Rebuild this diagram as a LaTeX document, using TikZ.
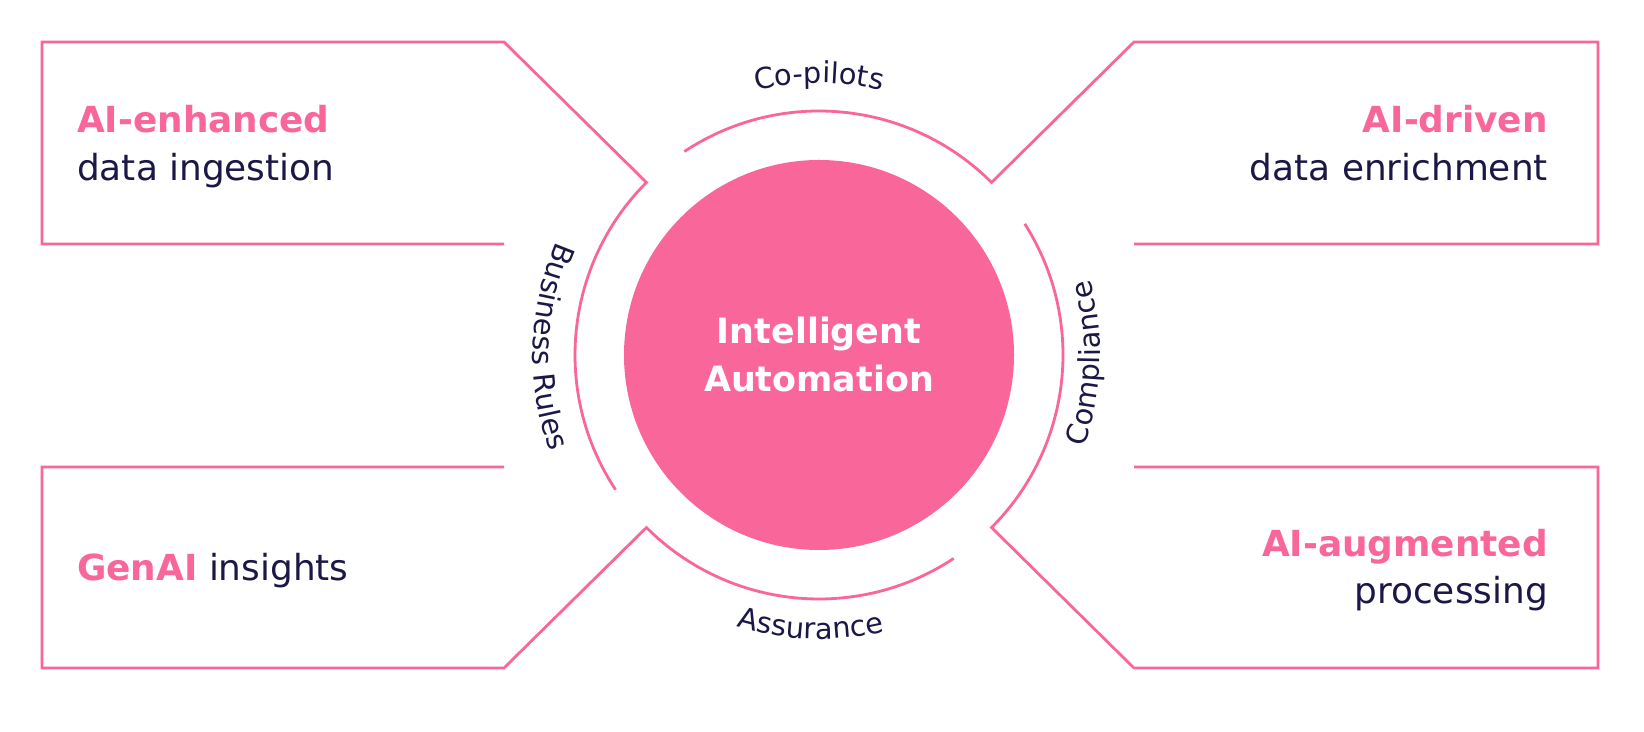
\documentclass[tikz,border=0pt]{standalone}
\usepackage{fontspec}
\setmainfont{DejaVu Sans}
\usetikzlibrary{calc,decorations.text}
\definecolor{brandpink}{HTML}{F9669A}
\definecolor{navy}{HTML}{1B1747}
\newcommand\boxfont{\fontsize{36}{43}\selectfont}
\newcommand\hubfont{\fontsize{35}{42}\selectfont}
\newcommand\lblfont{\fontsize{29}{35}\selectfont}
\begin{document}
\begin{tikzpicture}[x=1bp,y=1bp,
  frame/.style={draw=brandpink, line width=2.8bp, line join=miter},
  hitext/.style={inner sep=0, text=brandpink, font=\boxfont\bfseries},
  lotext/.style={inner sep=0, text=navy, font=\boxfont},
  hubtext/.style={inner sep=0, text=white, font=\hubfont\bfseries, anchor=base},
  arclabel/.style={decorate, decoration={text along path, text align=center,
      text color=navy, text={|\lblfont|#1}}}]
\useasboundingbox (0,0) rectangle (1644,732);
\fill[white] (0,0) rectangle (1644,732);
\coordinate (C) at (819,377);
\coordinate (tTL) at ($(C)+(135:244)$);
\coordinate (tTR) at ($(C)+(45:244)$);
\coordinate (tBL) at ($(C)+(225:244)$);
\coordinate (tBR) at ($(C)+(315:244)$);
% frames
\draw[frame] (504,488) -- (42,488) -- (42,690) -- (504,690) -- (tTL)
  arc[start angle=135, end angle=213.5, radius=244];
\draw[frame] (1134,488) -- (1598,488) -- (1598,690) -- (1134,690) -- (tTR)
  arc[start angle=45, end angle=123.5, radius=244];
\draw[frame] (504,265) -- (42,265) -- (42,64) -- (504,64) -- (tBL)
  arc[start angle=225, end angle=303.5, radius=244];
\draw[frame] (1134,265) -- (1598,265) -- (1598,64) -- (1134,64) -- (tBR)
  arc[start angle=315, end angle=392.5, radius=244];
% hub
\node[circle, fill=brandpink, minimum size=390bp, inner sep=0] (hub) at (C) {};
\node[hubtext] (hubA) at (819,388) {Intelligent};
\node[hubtext] (hubB) at (819,340) {Automation};
% box texts
\node[hitext, anchor=base west] (tlA) at (77,599) {AI-enhanced};
\node[lotext, anchor=base west] (tlB) at (77,551) {data ingestion};
\node[hitext, anchor=base east] (trA) at (1548,599) {AI-driven};
\node[lotext, anchor=base east] (trB) at (1548,551) {data enrichment};
\node[lotext, anchor=base west] (bl) at (77,151) {\textcolor{brandpink}{\bfseries GenAI} insights};
\node[hitext, anchor=base east] (brA) at (1548,175) {AI-augmented};
\node[lotext, anchor=base east] (brB) at (1548,128) {processing};
% arc labels
\path[arclabel={Co-pilots}] ($(C)+(130:272)$) arc[start angle=130, end angle=50, radius=272];
\path[arclabel={Business Rules}] ($(C)+(143.2:286)$) arc[start angle=143.2, end angle=213.2, radius=286];
\path[arclabel={Compliance}] ($(C)+(-36.8:281)$) arc[start angle=-36.8, end angle=33.2, radius=281];
\path[arclabel={Assurance}] ($(C)+(233.2:284)$) arc[start angle=233.2, end angle=303.2, radius=284];
\end{tikzpicture}
\end{document}
